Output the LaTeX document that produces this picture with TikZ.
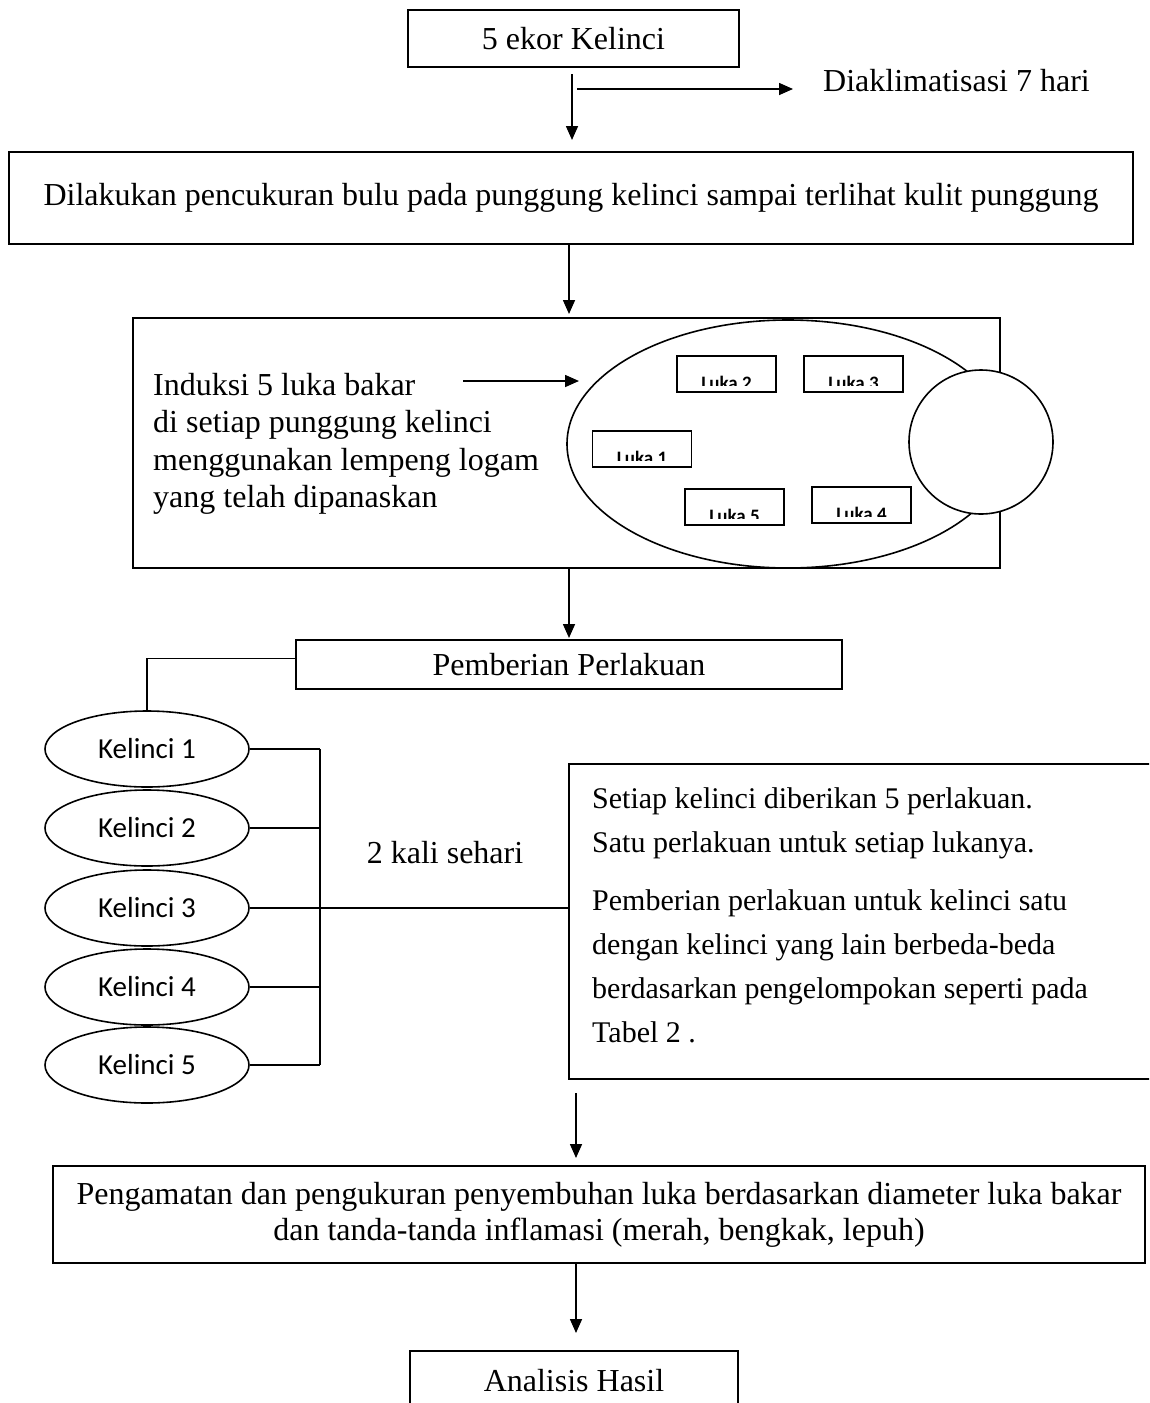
\documentclass[tikz,border=0pt]{standalone}
\usepackage{fontspec}
\setmainfont{Liberation Serif}
\newfontfamily\calib{Carlito}
\usetikzlibrary{arrows.meta,shapes.geometric}
\begin{document}
\begin{tikzpicture}[x=1pt,y=-1pt,
  lw/.style={line width=1.6pt},
  box/.style={draw,lw,rectangle,inner sep=0pt,align=center,font=\fontsize{32}{36}\selectfont},
  arr/.style={lw,-{Triangle[length=14pt,width=12pt]}},
  kel/.style={draw,lw,ellipse,minimum width=204pt,minimum height=76pt,inner sep=0pt,font=\calib\fontsize{29}{32}\selectfont},
  luka/.style={draw,lw,rectangle,minimum width=99pt,minimum height=36pt,inner sep=0pt},
  lukatxt/.style={inner sep=0pt,anchor=base,font=\calib\bfseries\fontsize{19}{20}\selectfont},
  txt/.style={inner sep=0pt,font=\fontsize{32}{36}\selectfont}
]
\clip (0,0) rectangle (1149,1403);
\fill[white] (0,0) rectangle (1149,1403);

% top
\node[box,minimum width=331pt,minimum height=57pt] (b1) at (573.5,38.5) {5 ekor Kelinci};
\coordinate (v1s) at (572,74);
\coordinate (v1e) at (572,140);
\draw[arr] (v1s) -- (v1e);
\coordinate (h1s) at (577,89);
\coordinate (h1e) at (793,89);
\draw[arr] (h1s) -- (h1e);
\node[txt,anchor=west] (akl) at (823,81) {Diaklimatisasi 7 hari};

\node[box,minimum width=1124pt,minimum height=92pt] (b2) at (571,198) {Dilakukan pencukuran bulu pada punggung kelinci sampai terlihat kulit punggung};
\coordinate (v2e) at (569,314);
\draw[arr] (b2.south -| v2e) -- (v2e);

% box 3
\node[box,minimum width=867pt,minimum height=250pt] (b3) at (566.5,443) {};
\node[txt,anchor=north west,align=left,font=\fontsize{32}{37.5}\selectfont] (ind) at (153,373) {Induksi 5 luka bakar\\di setiap punggung kelinci\\menggunakan lempeng logam\\yang telah dipanaskan};
\coordinate (h2s) at (463,381);
\coordinate (h2e) at (579,381);
\draw[arr] (h2s) -- (h2e);
\node[draw,lw,ellipse,minimum width=442pt,minimum height=248pt,inner sep=0pt] (back) at (788,444) {};
\node[luka] (l2) at (726.5,374) {};
\node[luka] (l3) at (853.5,374) {};
\node[luka] (l1) at (642,449) {};
\node[luka] (l5) at (734.5,507) {};
\node[luka] (l4) at (861.5,505) {};
\foreach \n/\t in {l1/Luka 1,l2/Luka 2,l3/Luka 3,l4/Luka 4,l5/Luka 5}{
  \begin{scope}
    \clip (\n.north west) rectangle ([yshift=7pt]\n.south east);
    \node[lukatxt] at ([yshift=3pt]\n.south) {\t};
  \end{scope}
}
\node[draw,lw,circle,fill=white,minimum size=144pt,inner sep=0pt] (head) at (981,442) {};

% box 4
\coordinate (v3e) at (569,638);
\draw[arr] (b3.south -| v3e) -- (v3e);
\node[box,minimum width=546pt,minimum height=49pt] (b4) at (569,664.5) {Pemberian Perlakuan};

\node[kel] (k1) at (147,749) {Kelinci 1};
\node[kel] (k2) at (147,828) {Kelinci 2};
\node[kel] (k3) at (147,908) {Kelinci 3};
\node[kel] (k4) at (147,987) {Kelinci 4};
\node[kel] (k5) at (147,1065) {Kelinci 5};
\draw[lw] ([yshift=6pt]b4.west) -| (k1.north);

\node[draw,lw,rectangle,anchor=north west,minimum width=620pt,minimum height=315pt,inner sep=0pt] (rb) at (568,763) {};
\node[txt,anchor=north west,align=left,font=\fontsize{30}{44}\selectfont] (rbt) at (592,787)
 {Setiap kelinci diberikan 5 perlakuan.\\Satu perlakuan untuk setiap lukanya.\\[14pt]Pemberian perlakuan untuk kelinci satu\\dengan kelinci yang lain berbeda-beda\\berdasarkan pengelompokan seperti pada\\Tabel 2 .};

\coordinate (bus) at (320,747);
\foreach \k in {k1,k2,k4,k5}{\draw[lw] (\k.east) -- (\k.east -| bus);}
\draw[lw] (k1.east -| bus) -- (k5.east -| bus);
\draw[lw] (k3.east) -- (k3.east -| rb.west);
\node[txt] (kali) at (445,853) {2 kali sehari};

% bottom
\coordinate (v4s) at (576,1093);
\coordinate (v4e) at (576,1158);
\draw[arr] (v4s) -- (v4e);
\node[box,minimum width=1092pt,minimum height=97pt] (b5) at (599,1214.5) {Pengamatan dan pengukuran penyembuhan luka berdasarkan diameter luka bakar\\dan tanda-tanda inflamasi (merah, bengkak, lepuh)};
\coordinate (v5e) at (576,1333);
\draw[arr] (b5.south -| v4s) -- (v5e);
\node[box,minimum width=328pt,minimum height=60pt] (b6) at (574,1381) {Analisis Hasil};
\end{tikzpicture}
\end{document}
